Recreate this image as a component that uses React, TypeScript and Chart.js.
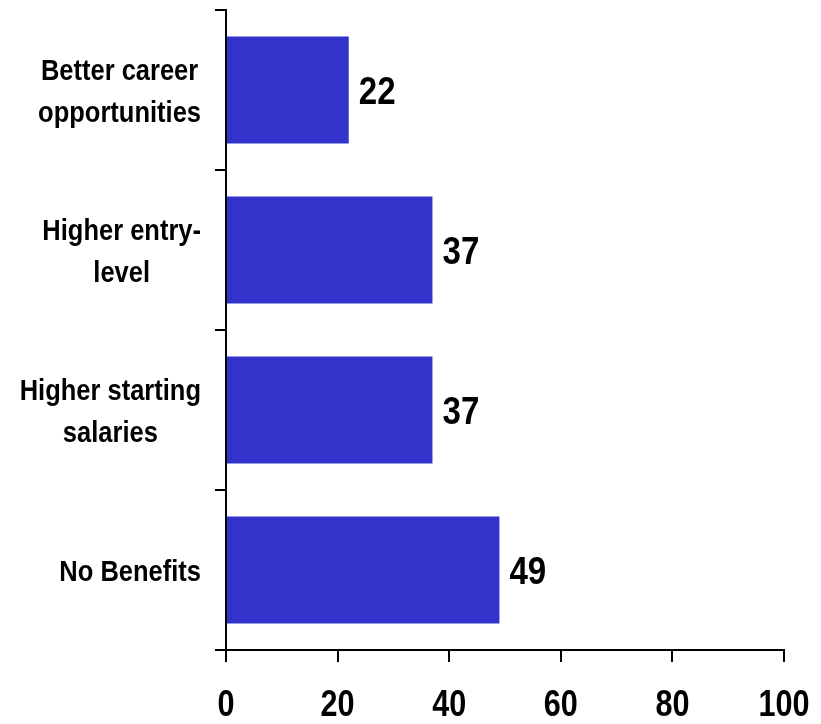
import React, { useEffect, useRef } from "react";
import { Chart, registerables } from "chart.js";

Chart.register(...registerables);

const categories: string[][] = [
  ["Better career", "opportunities"],
  ["Higher entry-", "level"],
  ["Higher starting", "salaries"],
  ["No Benefits"],
];
const values: number[] = [22, 37, 37, 49];
const xMin = 0;
const xMax = 100;
const xStep = 20;

const FONT = '"Liberation Sans", Arial, sans-serif';
const NARROW = 0.85;
const BAR_COLOR = "#3333CC";

function drawNarrow(ctx: CanvasRenderingContext2D, text: string, x: number, y: number, align: "left" | "center" | "right") {
  ctx.save();
  ctx.translate(x, y);
  ctx.scale(NARROW, 1);
  ctx.textAlign = align;
  ctx.textBaseline = "alphabetic";
  ctx.fillText(text, 0, 0);
  ctx.restore();
}

export default function App() {
  const ref = useRef<HTMLCanvasElement>(null);

  useEffect(() => {
    if (!ref.current) return;

    const textPlugin = {
      id: "narrowText",
      afterDraw(chart: any) {
        const ctx: CanvasRenderingContext2D = chart.ctx;
        const y = chart.scales.y;
        const x = chart.scales.x;
        ctx.save();
        ctx.fillStyle = "#000";

        // category labels (left)
        ctx.font = `bold 30px ${FONT}`;
        const right = y.right - 25;
        const lh = 42;
        categories.forEach((lines, i) => {
          const cy = y.getPixelForValue(i);
          const w = Math.max(...lines.map((l) => ctx.measureText(l).width)) * NARROW;
          const cx = right - w / 2;
          lines.forEach((l, j) => {
            drawNarrow(ctx, l, cx, cy + (j - (lines.length - 1) / 2) * lh + 11, "center");
          });
        });

        // x tick labels
        ctx.font = `bold 36px ${FONT}`;
        x.ticks.forEach((t: any) => {
          const px = x.getPixelForValue(t.value);
          drawNarrow(ctx, String(t.value), px, 716, "center");
        });

        // value labels
        ctx.font = `bold 39px ${FONT}`;
        const meta = chart.getDatasetMeta(0);
        meta.data.forEach((el: any, i: number) => {
          drawNarrow(ctx, String(values[i]), el.x + 10, el.y + 13.5, "left");
        });
        ctx.restore();
      },
    };

    const chart = new Chart(ref.current, {
      type: "bar",
      data: {
        labels: categories,
        datasets: [
          {
            data: values,
            backgroundColor: BAR_COLOR,
            borderWidth: 0,
            barPercentage: 0.67,
            categoryPercentage: 1,
          },
        ],
      },
      options: {
        indexAxis: "y",
        responsive: false,
        animation: false,
        layout: { padding: { top: 10, right: 37, left: 0, bottom: 0 } },
        plugins: {
          legend: { display: false },
          tooltip: { enabled: false },
        },
        scales: {
          x: {
            min: xMin,
            max: xMax,
            ticks: { stepSize: xStep, display: false },
            grid: {
              drawOnChartArea: false,
              drawTicks: true,
              tickLength: 12,
              color: "#000",
              lineWidth: 2,
            },
            border: { display: true, color: "#000", width: 2 },
            afterFit(scale: any) {
              scale.height = 74;
              scale.paddingLeft = 0;
              scale.paddingRight = 0;
            },
          },
          y: {
            ticks: { display: false },
            grid: {
              offset: true,
              drawOnChartArea: false,
              drawTicks: true,
              tickLength: 11,
              color: "#000",
              lineWidth: 2,
            },
            border: { display: true, color: "#000", width: 2 },
            afterFit(scale: any) {
              scale.width = 226;
              scale.paddingTop = 0;
              scale.paddingBottom = 0;
            },
          },
        },
      },
      plugins: [textPlugin],
    });

    return () => chart.destroy();
  }, []);

  return (
    <div style={{ position: "fixed", left: 0, top: 0, width: 821, height: 724, background: "#fff" }}>
      <canvas ref={ref} width={821} height={724} style={{ width: 821, height: 724, display: "block" }} />
    </div>
  );
}
